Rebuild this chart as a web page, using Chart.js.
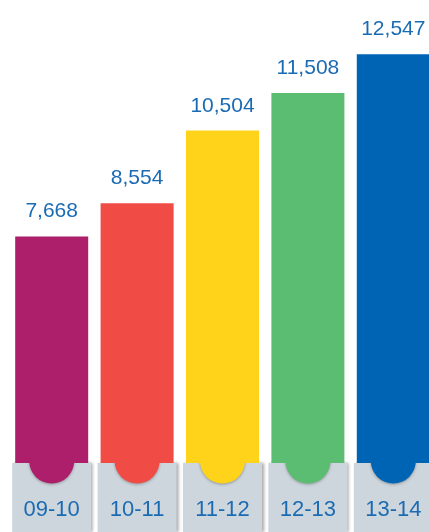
<!DOCTYPE html>
<html>
<head>
<meta charset="utf-8">
<script src="https://cdn.jsdelivr.net/npm/chart.js@4.4.1/dist/chart.umd.min.js"></script>
<style>
  html, body { margin: 0; padding: 0; background: #ffffff; overflow: hidden; width: 429px; height: 532px; }
  canvas { display: block; }
</style>
</head>
<body>
<canvas id="c" width="440" height="532"></canvas>
<script>
const categories = ['09-10', '10-11', '11-12', '12-13', '13-14'];
const values = [7668, 8554, 10504, 11508, 12547];
const barColors = ['#ad1f6b', '#f04c45', '#ffd31a', '#5bbd72', '#0064b4'];

const TEXT_BLUE = '#1b6bb3';
const TAB_GREY = '#ced6dd';

const tabsPlugin = {
  id: 'tabs',
  beforeDraw(chart) {
    const ctx = chart.ctx;
    const xs = chart.scales.x;
    const area = chart.chartArea;
    const top = area.bottom;
    const h = chart.height - top;
    const w = 79;
    ctx.save();
    ctx.fillStyle = '#ffffff';
    ctx.fillRect(0, 0, chart.width, chart.height);
    ctx.restore();
    categories.forEach((c, i) => {
      const x = xs.getPixelForValue(i);
      const left = x - w / 2;
      ctx.save();
      ctx.shadowColor = 'rgba(0,0,0,0.35)';
      ctx.shadowBlur = 3;
      ctx.shadowOffsetX = 2;
      ctx.fillStyle = TAB_GREY;
      ctx.fillRect(left, top, w, h);
      ctx.restore();
      ctx.save();
      ctx.beginPath();
      ctx.rect(left, top, w, h);
      ctx.clip();
      ctx.shadowColor = 'rgba(0,0,0,0.3)';
      ctx.shadowBlur = 3;
      ctx.shadowOffsetY = 1;
      ctx.fillStyle = barColors[i];
      ctx.beginPath();
      ctx.arc(x, top - 2, 22.5, 0, Math.PI * 2);
      ctx.fill();
      ctx.restore();
    });
  }
};

const valueLabels = {
  id: 'valueLabels',
  afterDatasetsDraw(chart) {
    const ctx = chart.ctx;
    const meta = chart.getDatasetMeta(0);
    ctx.save();
    ctx.font = '21px "Liberation Sans", Arial, sans-serif';
    ctx.fillStyle = TEXT_BLUE;
    ctx.textAlign = 'center';
    ctx.textBaseline = 'alphabetic';
    meta.data.forEach((bar, i) => {
      ctx.fillText(values[i].toLocaleString('en-US'), bar.x, bar.y - 19);
    });
    ctx.restore();
  }
};

new Chart(document.getElementById('c'), {
  type: 'bar',
  data: {
    labels: categories,
    datasets: [{
      data: values,
      backgroundColor: barColors,
      borderWidth: 0,
      categoryPercentage: 1,
      barPercentage: 0.855
    }]
  },
  options: {
    responsive: false,
    animation: false,
    devicePixelRatio: 1,
    layout: { padding: { left: 9, right: 4, top: 0, bottom: 0 } },
    plugins: { legend: { display: false }, tooltip: { enabled: false } },
    scales: {
      x: {
        grid: { display: false, drawTicks: false },
        border: { display: false },
        ticks: {
          color: TEXT_BLUE,
          font: { family: '"Liberation Sans", Arial, sans-serif', size: 22 },
          padding: 34,
          maxRotation: 0
        },
        afterFit(scale) {
          scale.height = 69;
          scale.paddingLeft = 0;
          scale.paddingRight = 0;
        }
      },
      y: {
        display: false,
        min: 1600,
        max: 14000
      }
    }
  },
  plugins: [tabsPlugin, valueLabels]
});
</script>
</body>
</html>
